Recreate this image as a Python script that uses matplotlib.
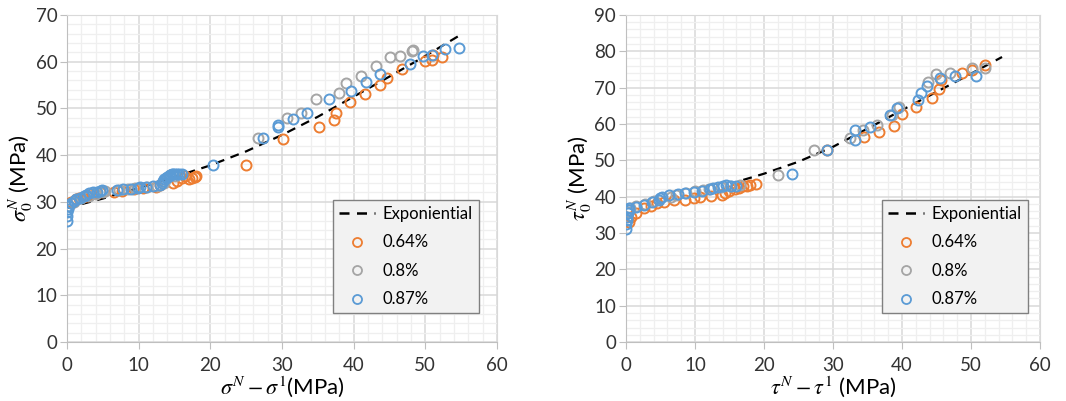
import matplotlib
matplotlib.use("Agg")
import matplotlib.pyplot as plt
from matplotlib.ticker import MultipleLocator
from matplotlib.lines import Line2D

plt.rcParams['font.family'] = ['Lato', 'DejaVu Sans']
plt.rcParams['mathtext.fontset'] = 'stix'

# ---------------- datos: grafico izquierdo (sigma) ----------------
sig_fit_x = [0, 5, 10, 15, 20, 25, 30, 35, 40, 45, 50, 55]
sig_fit_y = [28.7, 30.7, 33.0, 35.3, 37.8, 40.8, 44.3, 48.2, 52.5, 56.8, 61.2, 65.8]

sig_064_x = [0.6, 1.2, 1.6, 2.2, 2.8, 3.4, 4.0, 4.6, 6.6, 7.6, 9.4, 10.6, 12.4, 13.0, 14.8, 15.4,
             16.0, 16.4, 17.0, 17.4, 17.8, 18.0,
             25.0, 30.1, 35.2, 37.3, 37.5, 39.5, 41.6, 43.7, 44.7, 46.8, 50.0, 51.0, 51.1, 52.3]
sig_064_y = [30.0, 30.5, 30.8, 31.0, 31.3, 31.6, 31.9, 32.2, 32.0, 32.4, 32.7, 33.0, 33.2, 33.5, 34.0, 34.4,
             35.0, 35.6, 34.8, 35.2, 35.4, 35.6,
             37.9, 43.4, 46.1, 47.6, 49.0, 51.3, 53.1, 54.9, 56.4, 58.4, 60.1, 60.3, 61.5, 61.0]

sig_08_x = [0.3, 1.0, 2.0, 3.0, 4.0, 5.0, 5.3, 7.2, 8.5, 9.5, 11.2, 12.5, 13.5, 14.0, 14.4, 15.0,
            26.6, 30.7, 32.7, 34.8, 37.9, 39.0, 41.0, 43.1, 45.1, 46.5, 48.2, 48.3]
sig_08_y = [29.0, 30.0, 30.8, 31.3, 31.6, 32.0, 32.3, 32.5, 32.8, 33.0, 33.2, 33.4, 34.0, 35.0, 35.8, 35.5,
            43.6, 47.9, 48.9, 52.0, 53.3, 55.4, 56.9, 59.0, 61.0, 61.1, 62.2, 62.4]

sig_087_x = [0.0, 0.0, 0.0, 0.1, 0.2, 0.5, 1.0, 1.3, 1.8, 2.3, 2.6, 3.1, 3.6, 4.2, 4.6, 4.9,
             7.0, 7.8, 8.9, 9.9, 10.2, 11.0, 12.0, 13.0, 13.2, 13.4, 13.6, 13.8, 14.0, 14.2, 14.4,
             14.6, 14.8, 15.0, 15.3, 15.6, 16.0,
             20.3, 27.4, 29.5, 29.5, 31.5, 33.5, 36.6, 39.6, 41.7, 43.7, 47.8, 49.7, 51.0, 52.8, 54.7]
sig_087_y = [26.0, 27.0, 27.8, 28.5, 29.2, 29.8, 30.2, 30.5, 30.8, 31.2, 31.5, 31.8, 32.0, 32.2, 32.4, 32.6,
             32.5, 32.7, 32.8, 33.0, 33.1, 33.2, 33.4, 33.6, 34.0, 34.4, 34.8, 35.1, 35.4, 35.6, 35.8,
             35.9, 36.0, 36.0, 35.9, 36.0, 35.9,
             37.9, 43.6, 46.0, 46.5, 47.8, 49.1, 51.9, 53.6, 55.6, 57.4, 59.4, 61.3, 61.5, 62.7, 62.9]

# ---------------- datos: grafico derecho (tau) ----------------
tau_fit_x = [17, 20, 25, 30, 35, 40, 45, 50, 54.5]
tau_fit_y = [44.6, 46.3, 49.6, 53.7, 58.7, 63.8, 68.8, 73.8, 78.4]

tau_064_x = [0.4, 0.8, 1.4, 2.6, 3.6, 4.5, 5.5, 7.0, 8.5, 9.8, 10.8, 12.3, 13.9, 14.3, 15.0, 15.8,
             16.4, 17.0, 17.5, 18.0, 18.8,
             29.2, 34.5, 36.7, 38.8, 40.0, 42.1, 44.3, 45.4, 45.6, 48.7, 50.1, 52.1]
tau_064_y = [33.0, 34.5, 35.5, 36.8, 37.5, 38.2, 38.5, 39.0, 39.2, 39.5, 39.8, 40.2, 40.4, 41.0, 41.5, 42.0,
             42.3, 42.8, 43.0, 43.3, 43.4,
             52.8, 56.5, 57.9, 59.4, 62.8, 64.6, 67.2, 69.5, 72.0, 74.1, 74.7, 76.2]

tau_08_x = [0.3, 0.6, 1.5, 2.8, 4.0, 6.5, 7.3, 8.7, 10.0, 11.2, 12.0, 13.8, 15.1, 16.5,
            22.1, 27.2, 32.4, 34.4, 36.4, 38.5, 39.6, 43.8, 44.9, 47.0, 50.1, 52.0]
tau_08_y = [35.8, 37.0, 37.5, 38.0, 38.8, 40.0, 40.5, 41.0, 41.5, 41.8, 42.2, 42.6, 43.0, 43.3,
            46.0, 52.8, 56.1, 58.3, 59.7, 62.5, 64.6, 71.6, 73.8, 74.1, 75.3, 75.3]

tau_087_x = [0.0, 0.0, 0.1, 0.2, 0.3, 0.4, 0.5, 1.5, 2.6, 3.8, 4.8, 4.9, 5.2, 6.3, 7.5, 8.6, 9.8,
             11.0, 12.2, 12.6, 13.3, 14.0, 14.5, 15.2, 16.0,
             24.1, 29.2, 33.2, 33.2, 35.3, 38.3, 39.3, 42.3, 42.7, 43.6, 45.5, 47.7, 50.7]
tau_087_y = [31.2, 32.5, 33.5, 34.5, 35.5, 36.3, 37.0, 37.2, 37.8, 38.5, 39.2, 39.5, 40.0, 40.4, 40.8, 41.0, 41.2,
             41.5, 42.0, 42.3, 42.6, 42.8, 43.2, 43.0, 43.0,
             46.2, 52.8, 58.3, 55.6, 59.1, 62.5, 64.3, 66.6, 68.4, 70.5, 72.6, 73.2, 73.2]

series_labels = ['0.64%', '0.8%', '0.87%']
series_colors = ['#ED7D31', '#A5A5A5', '#5B9BD5']

fig = plt.figure(figsize=(10.66, 4.01), dpi=100)
ax1 = fig.add_axes([0.0629, 0.147, 0.4033, 0.816])
ax2 = fig.add_axes([0.5872, 0.147, 0.3884, 0.816])


def dibujar(ax, fit_x, fit_y, datos, ymax, xlabel, ylabel):
    ax.plot(fit_x, fit_y, color='black', linestyle=(0, (4, 3)), linewidth=1.6, zorder=2)
    for (xs, ys), c in zip(datos, series_colors):
        ax.plot(xs, ys, linestyle='none', marker='o', markersize=7.2, markerfacecolor='none',
                markeredgecolor=c, markeredgewidth=1.4, zorder=3)
    ax.set_xlim(0, 60)
    ax.set_ylim(0, ymax)
    ax.xaxis.set_major_locator(MultipleLocator(10))
    ax.xaxis.set_minor_locator(MultipleLocator(2))
    ax.yaxis.set_major_locator(MultipleLocator(10))
    ax.yaxis.set_minor_locator(MultipleLocator(2))
    ax.grid(which='major', color='#D9D9D9', linewidth=1.1, zorder=0)
    ax.grid(which='minor', color='#EFEFEF', linewidth=0.9, zorder=0)
    ax.set_axisbelow(True)
    for s in ax.spines.values():
        s.set_color('#D9D9D9')
    ax.spines['left'].set_color('#BFBFBF')
    ax.spines['bottom'].set_color('#BFBFBF')
    ax.tick_params(which='major', length=5, color='#BFBFBF', labelsize=13.5, labelcolor='#333333')
    ax.tick_params(axis='x', which='major', pad=6)
    ax.tick_params(axis='y', which='major', pad=2)
    ax.tick_params(which='minor', length=0)
    ax.set_xlabel(xlabel, fontsize=16, labelpad=0)
    ax.set_ylabel(ylabel, fontsize=16, labelpad=0)
    handles = [Line2D([], [], color='black', linestyle=(0, (4, 3)), linewidth=1.8)]
    for c in series_colors:
        handles.append(Line2D([], [], linestyle='none', marker='o', markersize=6.5,
                              markerfacecolor='none', markeredgecolor=c, markeredgewidth=1.3))
    leg = ax.legend(handles, ['Exponiential'] + series_labels, loc='lower left',
                    bbox_to_anchor=(0.618, 0.088), ncols=1,
                    fontsize=12, frameon=True, fancybox=False, handlelength=2.2,
                    handletextpad=0.45, labelspacing=0.75, borderpad=0.35, borderaxespad=0)
    leg.get_frame().set_facecolor('#F2F2F2')
    leg.get_frame().set_edgecolor('#808080')
    leg.get_frame().set_alpha(1)


dibujar(ax1, sig_fit_x, sig_fit_y,
        [(sig_064_x, sig_064_y), (sig_08_x, sig_08_y), (sig_087_x, sig_087_y)],
        70, r'$\sigma^N - \sigma^1$(MPa)', r'$\sigma_0^N$ (MPa)')
dibujar(ax2, tau_fit_x, tau_fit_y,
        [(tau_064_x, tau_064_y), (tau_08_x, tau_08_y), (tau_087_x, tau_087_y)],
        90, r'$\tau^N - \tau^1$ (MPa)', r'$\tau_0^N$ (MPa)')

fig.savefig('out.png', dpi=100)
